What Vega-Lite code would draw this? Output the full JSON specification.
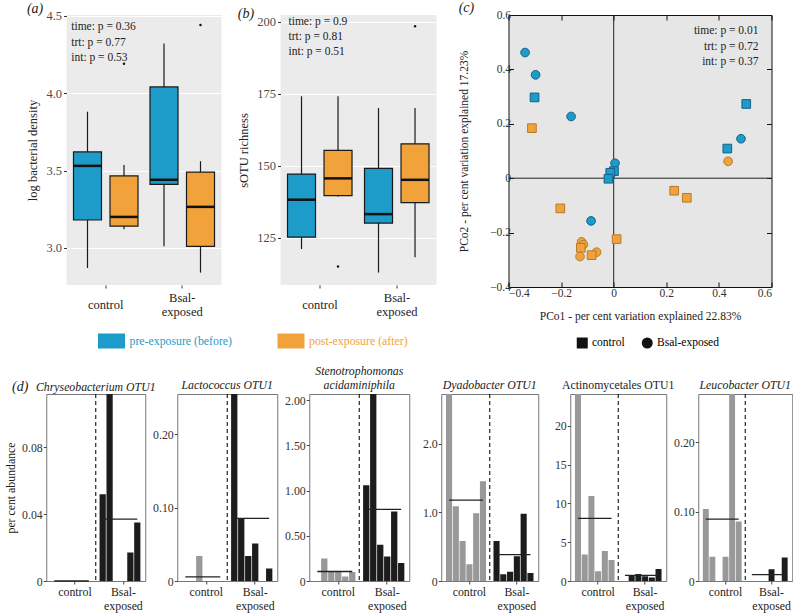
{
 "$schema": "https://vega.github.io/schema/vega-lite/v6.json",
 "background": "white",
 "padding": {"left": 5, "top": 0, "right": 0, "bottom": 0},
 "config": {
   "font": "Liberation Serif, Times New Roman, serif",
   "view": {"stroke": null},
   "axis": {"labelFont": "Liberation Serif, Times New Roman, serif", "titleFont": "Liberation Serif, Times New Roman, serif", "titleFontWeight": "normal", "labelFontSize": 12.5, "titleFontSize": 12.5, "labelColor": "#333", "titleColor": "#222"},
   "title": {"font": "Liberation Serif, Times New Roman, serif", "fontWeight": "normal", "fontSize": 12, "color": "#222"},
   "legend": {"labelFont": "Liberation Serif, Times New Roman, serif", "titleFont": "Liberation Serif, Times New Roman, serif"},
   "text": {"font": "Liberation Serif, Times New Roman, serif"}
 },
 "datasets": {
   "boxA": [
     {"group": "control", "time": "pre", "lower": 2.87, "q1": 3.18, "median": 3.53, "q3": 3.62, "upper": 3.88},
     {"group": "control", "time": "post", "lower": 3.12, "q1": 3.14, "median": 3.2, "q3": 3.465, "upper": 3.535},
     {"group": "Bsal-exposed", "time": "pre", "lower": 3.01, "q1": 3.41, "median": 3.44, "q3": 4.04, "upper": 4.32},
     {"group": "Bsal-exposed", "time": "post", "lower": 2.84, "q1": 3.01, "median": 3.265, "q3": 3.49, "upper": 3.56}
   ],
   "outA": [
     {"group": "control", "time": "post", "value": 4.19},
     {"group": "Bsal-exposed", "time": "post", "value": 4.44}
   ],
   "boxB": [
     {"group": "control", "time": "pre", "lower": 121.1, "q1": 125.2, "median": 138.2, "q3": 147.1, "upper": 174.1},
     {"group": "control", "time": "post", "lower": 139.3, "q1": 139.6, "median": 145.6, "q3": 155.3, "upper": 174.1},
     {"group": "Bsal-exposed", "time": "pre", "lower": 112.9, "q1": 130.1, "median": 133.2, "q3": 149.1, "upper": 170.0},
     {"group": "Bsal-exposed", "time": "post", "lower": 118.2, "q1": 137.2, "median": 145.1, "q3": 157.6, "upper": 170.0}
   ],
   "outB": [
     {"group": "control", "time": "post", "value": 115.0},
     {"group": "Bsal-exposed", "time": "post", "value": 198.4}
   ],
   "pco": [
     {"pco1": -0.337, "pco2": 0.462, "time": "pre", "treatment": "Bsal-exposed"},
     {"pco1": -0.297, "pco2": 0.380, "time": "pre", "treatment": "Bsal-exposed"},
     {"pco1": -0.162, "pco2": 0.227, "time": "pre", "treatment": "Bsal-exposed"},
     {"pco1": 0.005, "pco2": 0.055, "time": "pre", "treatment": "Bsal-exposed"},
     {"pco1": -0.086, "pco2": -0.157, "time": "pre", "treatment": "Bsal-exposed"},
     {"pco1": 0.484, "pco2": 0.145, "time": "pre", "treatment": "Bsal-exposed"},
     {"pco1": -0.301, "pco2": 0.297, "time": "pre", "treatment": "control"},
     {"pco1": 0.504, "pco2": 0.273, "time": "pre", "treatment": "control"},
     {"pco1": 0.432, "pco2": 0.109, "time": "pre", "treatment": "control"},
     {"pco1": 0.001, "pco2": 0.026, "time": "pre", "treatment": "control"},
     {"pco1": -0.013, "pco2": 0.020, "time": "pre", "treatment": "control"},
     {"pco1": -0.020, "pco2": -0.002, "time": "pre", "treatment": "control"},
     {"pco1": 0.435, "pco2": 0.062, "time": "post", "treatment": "Bsal-exposed"},
     {"pco1": -0.122, "pco2": -0.234, "time": "post", "treatment": "Bsal-exposed"},
     {"pco1": -0.115, "pco2": -0.244, "time": "post", "treatment": "Bsal-exposed"},
     {"pco1": -0.128, "pco2": -0.288, "time": "post", "treatment": "Bsal-exposed"},
     {"pco1": -0.065, "pco2": -0.272, "time": "post", "treatment": "Bsal-exposed"},
     {"pco1": -0.311, "pco2": 0.184, "time": "post", "treatment": "control"},
     {"pco1": -0.203, "pco2": -0.111, "time": "post", "treatment": "control"},
     {"pco1": 0.230, "pco2": -0.046, "time": "post", "treatment": "control"},
     {"pco1": 0.278, "pco2": -0.072, "time": "post", "treatment": "control"},
     {"pco1": 0.011, "pco2": -0.224, "time": "post", "treatment": "control"},
     {"pco1": -0.125, "pco2": -0.256, "time": "post", "treatment": "control"},
     {"pco1": -0.084, "pco2": -0.283, "time": "post", "treatment": "control"}
   ],
   "d1": [
     {"sample": "C1", "group": "control", "value": 0}, {"sample": "C2", "group": "control", "value": 0}, {"sample": "C3", "group": "control", "value": 0},
     {"sample": "C4", "group": "control", "value": 0}, {"sample": "C5", "group": "control", "value": 0}, {"sample": "C6", "group": "control", "value": 0},
     {"sample": "B1", "group": "Bsal-exposed", "value": 0.052}, {"sample": "B2", "group": "Bsal-exposed", "value": 0.118}, {"sample": "B3", "group": "Bsal-exposed", "value": 0},
     {"sample": "B4", "group": "Bsal-exposed", "value": 0}, {"sample": "B5", "group": "Bsal-exposed", "value": 0.017}, {"sample": "B6", "group": "Bsal-exposed", "value": 0.035}
   ],
   "d1m": [{"from": "C1", "to": "C6", "mean": 0}, {"from": "B1", "to": "B6", "mean": 0.037}],
   "d2": [
     {"sample": "C1", "group": "control", "value": 0}, {"sample": "C2", "group": "control", "value": 0}, {"sample": "C3", "group": "control", "value": 0.034},
     {"sample": "C4", "group": "control", "value": 0}, {"sample": "C5", "group": "control", "value": 0}, {"sample": "C6", "group": "control", "value": 0},
     {"sample": "B1", "group": "Bsal-exposed", "value": 0.326}, {"sample": "B2", "group": "Bsal-exposed", "value": 0.085}, {"sample": "B3", "group": "Bsal-exposed", "value": 0.034},
     {"sample": "B4", "group": "Bsal-exposed", "value": 0.051}, {"sample": "B5", "group": "Bsal-exposed", "value": 0}, {"sample": "B6", "group": "Bsal-exposed", "value": 0.017}
   ],
   "d2m": [{"from": "C1", "to": "C6", "mean": 0.0057}, {"from": "B1", "to": "B6", "mean": 0.0855}],
   "d3": [
     {"sample": "C1", "group": "control", "value": 0}, {"sample": "C2", "group": "control", "value": 0.25}, {"sample": "C3", "group": "control", "value": 0.11},
     {"sample": "C4", "group": "control", "value": 0.11}, {"sample": "C5", "group": "control", "value": 0.05}, {"sample": "C6", "group": "control", "value": 0.10},
     {"sample": "B1", "group": "Bsal-exposed", "value": 1.06}, {"sample": "B2", "group": "Bsal-exposed", "value": 2.1}, {"sample": "B3", "group": "Bsal-exposed", "value": 0.40},
     {"sample": "B4", "group": "Bsal-exposed", "value": 0.27}, {"sample": "B5", "group": "Bsal-exposed", "value": 0.77}, {"sample": "B6", "group": "Bsal-exposed", "value": 0.20}
   ],
   "d3m": [{"from": "C1", "to": "C6", "mean": 0.105}, {"from": "B1", "to": "B6", "mean": 0.793}],
   "d4": [
     {"sample": "C1", "group": "control", "value": 2.8}, {"sample": "C2", "group": "control", "value": 1.087}, {"sample": "C3", "group": "control", "value": 0.583},
     {"sample": "C4", "group": "control", "value": 0.243}, {"sample": "C5", "group": "control", "value": 0.985}, {"sample": "C6", "group": "control", "value": 1.451},
     {"sample": "B1", "group": "Bsal-exposed", "value": 0.583}, {"sample": "B2", "group": "Bsal-exposed", "value": 0.097}, {"sample": "B3", "group": "Bsal-exposed", "value": 0.136},
     {"sample": "B4", "group": "Bsal-exposed", "value": 0.359}, {"sample": "B5", "group": "Bsal-exposed", "value": 0.98}, {"sample": "B6", "group": "Bsal-exposed", "value": 0.117}
   ],
   "d4m": [{"from": "C1", "to": "C6", "mean": 1.175}, {"from": "B1", "to": "B6", "mean": 0.383}],
   "d5": [
     {"sample": "C1", "group": "control", "value": 26.2}, {"sample": "C2", "group": "control", "value": 3.4}, {"sample": "C3", "group": "control", "value": 10.95},
     {"sample": "C4", "group": "control", "value": 1.25}, {"sample": "C5", "group": "control", "value": 3.88}, {"sample": "C6", "group": "control", "value": 2.72},
     {"sample": "B1", "group": "Bsal-exposed", "value": 0}, {"sample": "B2", "group": "Bsal-exposed", "value": 0.7}, {"sample": "B3", "group": "Bsal-exposed", "value": 0.9},
     {"sample": "B4", "group": "Bsal-exposed", "value": 0.6}, {"sample": "B5", "group": "Bsal-exposed", "value": 0.45}, {"sample": "B6", "group": "Bsal-exposed", "value": 1.55}
   ],
   "d5m": [{"from": "C1", "to": "C6", "mean": 8.06}, {"from": "B1", "to": "B6", "mean": 0.73}],
   "d6": [
     {"sample": "C1", "group": "control", "value": 0.104}, {"sample": "C2", "group": "control", "value": 0.035}, {"sample": "C3", "group": "control", "value": 0},
     {"sample": "C4", "group": "control", "value": 0.035}, {"sample": "C5", "group": "control", "value": 0.28}, {"sample": "C6", "group": "control", "value": 0.086},
     {"sample": "B1", "group": "Bsal-exposed", "value": 0}, {"sample": "B2", "group": "Bsal-exposed", "value": 0}, {"sample": "B3", "group": "Bsal-exposed", "value": 0},
     {"sample": "B4", "group": "Bsal-exposed", "value": 0.017}, {"sample": "B5", "group": "Bsal-exposed", "value": 0}, {"sample": "B6", "group": "Bsal-exposed", "value": 0.034}
   ],
   "d6m": [{"from": "C1", "to": "C6", "mean": 0.0894}, {"from": "B1", "to": "B6", "mean": 0.0091}]
 },
 "spacing": 13,
 "center": true,
 "align": "each",
 "resolve": {"scale": {"shape": "independent", "fill": "independent", "stroke": "independent", "color": "independent"}},
 "vconcat": [
  {
   "align": "each",
   "hconcat": [
    {
     "align": "each",
     "vconcat": [
      {
       "align": "each",
       "hconcat": [
        {
         "width": 155, "height": 270,
         "title": {"text": "(a)", "anchor": "start", "frame": "bounds", "fontStyle": "italic", "fontSize": 14, "offset": -6},
         "view": {"fill": "#ebebeb", "stroke": null},
         "layer": [
          {"data": {"name": "boxA"}, "mark": {"type": "rule", "color": "#1a1a1a", "strokeWidth": 1.2},
           "encoding": {
             "x": {"field": "group", "type": "nominal", "title": null, "scale": {"type": "band", "domain": ["control", "Bsal-exposed"], "paddingInner": 0.05, "paddingOuter": 0.038},
                   "axis": {"title": null, "labelAngle": 0, "domain": false, "tickColor": "#333", "tickSize": 3, "labelPadding": {"condition": {"test": "datum.value == 'control'", "value": 10}, "value": 3}, "labelBaseline": "top", "labelLineHeight": 14, "labelColor": "#222", "labelFontSize": 12.5, "labelExpr": "datum.value == 'Bsal-exposed' ? ['Bsal-', 'exposed'] : datum.value"}},
             "xOffset": {"field": "time", "type": "nominal", "scale": {"domain": ["pre", "post"], "paddingInner": 0.233, "paddingOuter": 0.112}},
             "y": {"field": "lower", "type": "quantitative", "title": "log bacterial density", "scale": {"domain": [2.76, 4.505], "nice": false, "zero": false},
                   "axis": {"values": [3, 3.5, 4, 4.5], "format": ".1f", "grid": true, "gridColor": "#ffffff", "gridWidth": 1.2, "domain": false, "tickColor": "#333", "tickSize": 3, "labelPadding": 2, "labelColor": "#4d4d4d", "titlePadding": 6}},
             "y2": {"field": "upper"}
           }},
          {"data": {"name": "boxA"}, "mark": {"type": "bar", "stroke": "#1a1a1a", "strokeWidth": 1.2},
           "encoding": {
             "x": {"field": "group", "type": "nominal", "title": null},
             "xOffset": {"field": "time", "type": "nominal"},
             "y": {"field": "q1", "type": "quantitative", "title": "log bacterial density"},
             "y2": {"field": "q3"},
             "fill": {"field": "time", "type": "nominal", "scale": {"domain": ["pre", "post"], "range": ["#1d9bc9", "#f2a23b"]}, "legend": null}
           }},
          {"data": {"name": "boxA"}, "mark": {"type": "tick", "color": "#111", "thickness": 2.5, "size": 28, "opacity": 1},
           "encoding": {
             "x": {"field": "group", "type": "nominal", "title": null},
             "xOffset": {"field": "time", "type": "nominal"},
             "y": {"field": "median", "type": "quantitative", "title": "log bacterial density"}
           }},
          {"data": {"name": "outA"}, "mark": {"type": "circle", "color": "#111", "size": 6, "opacity": 1},
           "encoding": {
             "x": {"field": "group", "type": "nominal", "title": null},
             "xOffset": {"field": "time", "type": "nominal"},
             "y": {"field": "value", "type": "quantitative", "title": "log bacterial density"}
           }},
          {"data": {"values": [{}]}, "mark": {"type": "text", "align": "left", "baseline": "top", "fontSize": 11.5, "lineHeight": 15.3, "dx": -34.5, "color": "#222"},
           "encoding": {
             "x": {"datum": "control", "type": "nominal"},
             "y": {"datum": 4.463, "type": "quantitative"},
             "text": {"value": ["time:  p = 0.36", "trt: p = 0.77", "int: p = 0.53"]}
           }}
         ]
        },
        {
         "width": 156, "height": 270,
         "title": {"text": "(b)", "anchor": "start", "frame": "bounds", "fontStyle": "italic", "fontSize": 14, "offset": -6},
         "view": {"fill": "#ebebeb", "stroke": null},
         "layer": [
          {"data": {"name": "boxB"}, "mark": {"type": "rule", "color": "#1a1a1a", "strokeWidth": 1.2},
           "encoding": {
             "x": {"field": "group", "type": "nominal", "title": null, "scale": {"type": "band", "domain": ["control", "Bsal-exposed"], "paddingInner": 0.05, "paddingOuter": 0.038},
                   "axis": {"title": null, "labelAngle": 0, "domain": false, "tickColor": "#333", "tickSize": 3, "labelPadding": {"condition": {"test": "datum.value == 'control'", "value": 10}, "value": 3}, "labelBaseline": "top", "labelLineHeight": 14, "labelColor": "#222", "labelFontSize": 12.5, "labelExpr": "datum.value == 'Bsal-exposed' ? ['Bsal-', 'exposed'] : datum.value"}},
             "xOffset": {"field": "time", "type": "nominal", "scale": {"domain": ["pre", "post"], "paddingInner": 0.233, "paddingOuter": 0.112}},
             "y": {"field": "lower", "type": "quantitative", "title": "sOTU richness", "scale": {"domain": [108.6, 202.3], "nice": false, "zero": false},
                   "axis": {"values": [125, 150, 175, 200], "format": "d", "grid": true, "gridColor": "#ffffff", "gridWidth": 1.2, "domain": false, "tickColor": "#333", "tickSize": 3, "labelPadding": 2, "labelColor": "#4d4d4d", "titlePadding": 6}},
             "y2": {"field": "upper"}
           }},
          {"data": {"name": "boxB"}, "mark": {"type": "bar", "stroke": "#1a1a1a", "strokeWidth": 1.2},
           "encoding": {
             "x": {"field": "group", "type": "nominal", "title": null},
             "xOffset": {"field": "time", "type": "nominal"},
             "y": {"field": "q1", "type": "quantitative", "title": "sOTU richness"},
             "y2": {"field": "q3"},
             "fill": {"field": "time", "type": "nominal", "scale": {"domain": ["pre", "post"], "range": ["#1d9bc9", "#f2a23b"]}, "legend": null}
           }},
          {"data": {"name": "boxB"}, "mark": {"type": "tick", "color": "#111", "thickness": 2.5, "size": 28, "opacity": 1},
           "encoding": {
             "x": {"field": "group", "type": "nominal", "title": null},
             "xOffset": {"field": "time", "type": "nominal"},
             "y": {"field": "median", "type": "quantitative", "title": "sOTU richness"}
           }},
          {"data": {"name": "outB"}, "mark": {"type": "circle", "color": "#111", "size": 6, "opacity": 1},
           "encoding": {
             "x": {"field": "group", "type": "nominal", "title": null},
             "xOffset": {"field": "time", "type": "nominal"},
             "y": {"field": "value", "type": "quantitative", "title": "sOTU richness"}
           }},
          {"data": {"values": [{}]}, "mark": {"type": "text", "align": "left", "baseline": "top", "fontSize": 11.5, "lineHeight": 15.3, "dx": -31.5, "color": "#222"},
           "encoding": {
             "x": {"datum": "control", "type": "nominal"},
             "y": {"datum": 202.1, "type": "quantitative"},
             "text": {"value": ["time:  p = 0.9", "trt: p = 0.81", "int: p = 0.51"]}
           }}
         ]
        }
       ],
       "spacing": 16
      },
      {
       "width": 359, "height": 16,
       "data": {"values": [{"time": "pre", "label": "pre-exposure (before)"}, {"time": "post", "label": "post-exposure (after)"}]},
       "layer": [
        {"mark": {"type": "point", "shape": "M-1,-0.556H1V0.556H-1Z", "filled": true, "size": 729, "opacity": 1, "strokeWidth": 0, "xOffset": -44.75},
         "encoding": {
           "x": {"field": "time", "type": "nominal", "scale": {"type": "band", "domain": ["pre", "post"], "paddingInner": 0, "paddingOuter": 0}, "axis": null},
           "fill": {"field": "time", "type": "nominal", "scale": {"domain": ["pre", "post"], "range": ["#1d9bc9", "#f2a23b"]}, "legend": null}
         }},
        {"mark": {"type": "text", "align": "left", "baseline": "middle", "dx": -26.75, "fontSize": 11.8},
         "encoding": {
           "x": {"field": "time", "type": "nominal"},
           "text": {"field": "label"},
           "fill": {"field": "time", "type": "nominal", "legend": null}
         }}
       ]
      }
     ],
     "spacing": 15,
     "resolve": {"scale": {"fill": "independent"}}
    },
    {
     "width": 263, "height": 272,
     "title": {"text": "(c)", "anchor": "start", "frame": "bounds", "fontStyle": "italic", "fontSize": 14, "offset": -6},
     "view": {"fill": "#e6e6e6", "stroke": "#111", "strokeWidth": 1},
     "layer": [
      {"data": {"values": [{}]}, "mark": {"type": "rule", "color": "#222", "strokeWidth": 1},
       "encoding": {
         "x": {"datum": 0, "type": "quantitative", "scale": {"domain": [-0.4, 0.6], "nice": false, "zero": false},
               "axis": {"orient": "top", "labels": false, "title": null, "domain": false, "grid": false, "tickSize": -5, "tickColor": "#111", "values": [-0.4, -0.2, 0, 0.2, 0.4, 0.6]}}
       }},
      {"data": {"values": [{}]}, "mark": {"type": "rule", "color": "#222", "strokeWidth": 1},
       "encoding": {
         "y": {"datum": 0, "type": "quantitative", "scale": {"domain": [-0.4, 0.6], "nice": false, "zero": false},
               "axis": {"orient": "right", "labels": false, "title": null, "domain": false, "grid": false, "tickSize": -5, "tickColor": "#111", "values": [-0.4, -0.2, 0, 0.2, 0.4, 0.6]}}
       }},
      {"data": {"name": "pco"}, "mark": {"type": "point", "filled": true, "size": 75, "strokeWidth": 1, "opacity": 1},
       "encoding": {
         "x": {"field": "pco1", "type": "quantitative", "title": "PCo1 - per cent variation explained 22.83%",
               "axis": {"orient": "bottom", "values": [-0.4, -0.2, 0, 0.2, 0.4, 0.6], "format": "~g", "grid": false, "domain": false, "tickSize": -5, "tickColor": "#111", "labelPadding": 5, "titlePadding": 12, "labelFontSize": 11.5, "titleFontSize": 11.5}},
         "y": {"field": "pco2", "type": "quantitative", "title": "PCo2 - per cent variation explained 17.23%",
               "axis": {"orient": "left", "values": [-0.4, -0.2, 0, 0.2, 0.4, 0.6], "format": "~g", "grid": false, "domain": false, "tickSize": -5, "tickColor": "#111", "labelPadding": 3, "titlePadding": 20, "labelFontSize": 11.5, "titleFontSize": 11.5}},
         "fill": {"field": "time", "type": "nominal", "scale": {"domain": ["pre", "post"], "range": ["#1d9bc9", "#f2a23b"]}, "legend": null},
         "stroke": {"field": "time", "type": "nominal", "scale": {"domain": ["pre", "post"], "range": ["#14608a", "#b8792b"]}, "legend": null},
         "shape": {"field": "treatment", "type": "nominal", "scale": {"domain": ["control", "Bsal-exposed"], "range": ["square", "circle"]},
                   "legend": {"orient": "none", "legendX": 68, "legendY": 322, "direction": "horizontal", "title": null, "symbolFillColor": "#111", "symbolStrokeColor": "#111", "symbolSize": 90, "labelFontSize": 11.5, "columnPadding": 14,
                              "encode": {"symbols": {"update": {"fill": {"value": "#111"}, "stroke": {"value": "#111"}, "opacity": {"value": 1}}}}}}
       }},
      {"data": {"values": [{}]}, "mark": {"type": "text", "align": "right", "baseline": "top", "fontSize": 11.5, "lineHeight": 15.3, "dx": -13, "color": "#222"},
       "encoding": {
         "x": {"datum": 0.6, "type": "quantitative", "axis": null},
         "y": {"datum": 0.562, "type": "quantitative", "axis": null},
         "text": {"value": ["time:  p = 0.01", "trt: p = 0.72", "int: p = 0.37"]}
       }}
     ],
     "resolve": {"axis": {"x": "independent", "y": "independent"}}
    }
   ],
   "spacing": 21,
   "resolve": {"scale": {"shape": "independent", "fill": "independent", "stroke": "independent"}}
  },
  {
   "align": "each",
   "bounds": "flush",
   "hconcat": [
    {
     "width": 99, "height": 187,
     "view": {"stroke": "#777", "strokeWidth": 1},
     "layer": [
      {"data": {"name": "d1"}, "mark": {"type": "bar", "clip": true},
       "encoding": {
         "x": {"field": "sample", "type": "nominal", "title": null, "scale": {"type": "band", "domain": ["C1","C2","C3","C4","C5","C6","gap","B1","B2","B3","B4","B5","B6"], "paddingInner": 0.1, "paddingOuter": 0.7},
               "axis": {"title": null, "values": ["C4", "B4"], "labelExpr": "datum.value == 'C4' ? 'control' : ['Bsal-', 'exposed']", "labelAngle": 0, "domain": false, "tickSize": 3, "tickColor": "#444", "labelPadding": 2, "labelLineHeight": 14, "labelFontSize": 11.8, "labelColor": "#222", "labelBaseline": "top"}},
         "y": {"field": "value", "type": "quantitative", "title": "per cent abundance", "scale": {"domain": [0, 0.112], "nice": false},
               "axis": {"values": [0, 0.02, 0.04, 0.06, 0.08, 0.1], "labelExpr": "datum.value == 0 ? '0' : format(datum.value, '.2f')", "domain": false, "grid": false, "tickSize": 3, "tickColor": "#444", "labelPadding": 1, "labelFontSize": 11.8, "titleFontSize": 11.8, "titlePadding": 5}},
         "color": {"field": "group", "type": "nominal", "scale": {"domain": ["control", "Bsal-exposed"], "range": ["#999999", "#1c1c1c"]}, "legend": null}
       }},
      {"data": {"values": [{}]}, "mark": {"type": "rule", "strokeDash": [4, 3], "color": "#111", "strokeWidth": 1.1},
       "encoding": {"x": {"datum": "gap", "type": "nominal"}}},
      {"data": {"name": "d1m"}, "mark": {"type": "rule", "color": "#222", "strokeWidth": 1.3},
       "encoding": {"x": {"field": "from", "type": "nominal", "title": null}, "x2": {"field": "to"}, "y": {"field": "mean", "type": "quantitative", "title": "per cent abundance"}}},
      {"data": {"values": [{}]}, "mark": {"type": "text", "fontSize": 14, "fontStyle": "italic", "dx": -34, "dy": -7, "color": "#222"},
       "encoding": {"x": {"datum": "C1", "type": "nominal"}, "y": {"datum": 0.112, "type": "quantitative"}, "text": {"value": "(d)"}}},
      {"data": {"values": [{}]}, "mark": {"type": "text", "fontSize": 11.8, "fontStyle": "italic", "dy": -7, "color": "#222"},
       "encoding": {"x": {"datum": "gap", "type": "nominal"}, "y": {"datum": 0.112, "type": "quantitative"}, "text": {"value": "Chryseobacterium OTU1"}}}
     ]
    },
    {
     "width": 100, "height": 187,
     "title": {"text": ["", "Lactococcus OTU1"], "fontStyle": "italic", "fontSize": 11.8, "lineHeight": 14, "offset": 2, "frame": "group"},
     "view": {"stroke": "#777", "strokeWidth": 1},
     "layer": [
      {"data": {"name": "d2"}, "mark": {"type": "bar", "clip": true},
       "encoding": {
         "x": {"field": "sample", "type": "nominal", "title": null, "scale": {"type": "band", "domain": ["C1","C2","C3","C4","C5","C6","gap","B1","B2","B3","B4","B5","B6"], "paddingInner": 0.1, "paddingOuter": 0.7},
               "axis": {"title": null, "values": ["C4", "B4"], "labelExpr": "datum.value == 'C4' ? 'control' : ['Bsal-', 'exposed']", "labelAngle": 0, "domain": false, "tickSize": 3, "tickColor": "#444", "labelPadding": 2, "labelLineHeight": 14, "labelFontSize": 11.8, "labelColor": "#222", "labelBaseline": "top"}},
         "y": {"field": "value", "type": "quantitative", "title": null, "scale": {"domain": [0, 0.255], "nice": false},
               "axis": {"values": [0, 0.05, 0.1, 0.15, 0.2, 0.25], "labelExpr": "datum.value == 0 ? '0' : format(datum.value, '.2f')", "domain": false, "grid": false, "tickSize": 3, "tickColor": "#444", "labelPadding": 1, "labelFontSize": 11.8}},
         "color": {"field": "group", "type": "nominal", "scale": {"domain": ["control", "Bsal-exposed"], "range": ["#999999", "#1c1c1c"]}, "legend": null}
       }},
      {"data": {"values": [{}]}, "mark": {"type": "rule", "strokeDash": [4, 3], "color": "#111", "strokeWidth": 1.1},
       "encoding": {"x": {"datum": "gap", "type": "nominal"}}},
      {"data": {"name": "d2m"}, "mark": {"type": "rule", "color": "#222", "strokeWidth": 1.3},
       "encoding": {"x": {"field": "from", "type": "nominal", "title": null}, "x2": {"field": "to"}, "y": {"field": "mean", "type": "quantitative", "title": null}}}
     ]
    },
    {
     "width": 100, "height": 187,
     "title": {"text": ["Stenotrophomonas", "acidaminiphila"], "fontStyle": "italic", "fontSize": 11.8, "lineHeight": 14, "offset": 2, "frame": "group"},
     "view": {"stroke": "#777", "strokeWidth": 1},
     "layer": [
      {"data": {"name": "d3"}, "mark": {"type": "bar", "clip": true},
       "encoding": {
         "x": {"field": "sample", "type": "nominal", "title": null, "scale": {"type": "band", "domain": ["C1","C2","C3","C4","C5","C6","gap","B1","B2","B3","B4","B5","B6"], "paddingInner": 0.1, "paddingOuter": 0.7},
               "axis": {"title": null, "values": ["C4", "B4"], "labelExpr": "datum.value == 'C4' ? 'control' : ['Bsal-', 'exposed']", "labelAngle": 0, "domain": false, "tickSize": 3, "tickColor": "#444", "labelPadding": 2, "labelLineHeight": 14, "labelFontSize": 11.8, "labelColor": "#222", "labelBaseline": "top"}},
         "y": {"field": "value", "type": "quantitative", "title": null, "scale": {"domain": [0, 2.07], "nice": false},
               "axis": {"values": [0, 0.25, 0.5, 0.75, 1, 1.25, 1.5, 1.75, 2], "labelExpr": "datum.value == 0 ? '0' : format(datum.value, '.2f')", "domain": false, "grid": false, "tickSize": 3, "tickColor": "#444", "labelPadding": 1, "labelFontSize": 11.8}},
         "color": {"field": "group", "type": "nominal", "scale": {"domain": ["control", "Bsal-exposed"], "range": ["#999999", "#1c1c1c"]}, "legend": null}
       }},
      {"data": {"values": [{}]}, "mark": {"type": "rule", "strokeDash": [4, 3], "color": "#111", "strokeWidth": 1.1},
       "encoding": {"x": {"datum": "gap", "type": "nominal"}}},
      {"data": {"name": "d3m"}, "mark": {"type": "rule", "color": "#222", "strokeWidth": 1.3},
       "encoding": {"x": {"field": "from", "type": "nominal", "title": null}, "x2": {"field": "to"}, "y": {"field": "mean", "type": "quantitative", "title": null}}}
     ]
    },
    {
     "width": 97, "height": 187,
     "title": {"text": ["", "Dyadobacter OTU1"], "fontStyle": "italic", "fontSize": 11.8, "lineHeight": 14, "offset": 2, "frame": "group"},
     "view": {"stroke": "#777", "strokeWidth": 1},
     "layer": [
      {"data": {"name": "d4"}, "mark": {"type": "bar", "clip": true},
       "encoding": {
         "x": {"field": "sample", "type": "nominal", "title": null, "scale": {"type": "band", "domain": ["C1","C2","C3","C4","C5","C6","gap","B1","B2","B3","B4","B5","B6"], "paddingInner": 0.1, "paddingOuter": 0.7},
               "axis": {"title": null, "values": ["C4", "B4"], "labelExpr": "datum.value == 'C4' ? 'control' : ['Bsal-', 'exposed']", "labelAngle": 0, "domain": false, "tickSize": 3, "tickColor": "#444", "labelPadding": 2, "labelLineHeight": 14, "labelFontSize": 11.8, "labelColor": "#222", "labelBaseline": "top"}},
         "y": {"field": "value", "type": "quantitative", "title": null, "scale": {"domain": [0, 2.72], "nice": false},
               "axis": {"values": [0, 0.5, 1, 1.5, 2, 2.5], "labelExpr": "datum.value == 0 ? '0' : format(datum.value, '.1f')", "domain": false, "grid": false, "tickSize": 3, "tickColor": "#444", "labelPadding": 1, "labelFontSize": 11.8}},
         "color": {"field": "group", "type": "nominal", "scale": {"domain": ["control", "Bsal-exposed"], "range": ["#999999", "#1c1c1c"]}, "legend": null}
       }},
      {"data": {"values": [{}]}, "mark": {"type": "rule", "strokeDash": [4, 3], "color": "#111", "strokeWidth": 1.1},
       "encoding": {"x": {"datum": "gap", "type": "nominal"}}},
      {"data": {"name": "d4m"}, "mark": {"type": "rule", "color": "#222", "strokeWidth": 1.3},
       "encoding": {"x": {"field": "from", "type": "nominal", "title": null}, "x2": {"field": "to"}, "y": {"field": "mean", "type": "quantitative", "title": null}}}
     ]
    },
    {
     "width": 96, "height": 187,
     "title": {"text": ["", "Actinomycetales OTU1"], "fontSize": 11.8, "lineHeight": 14, "offset": 2, "frame": "group"},
     "view": {"stroke": "#777", "strokeWidth": 1},
     "layer": [
      {"data": {"name": "d5"}, "mark": {"type": "bar", "clip": true},
       "encoding": {
         "x": {"field": "sample", "type": "nominal", "title": null, "scale": {"type": "band", "domain": ["C1","C2","C3","C4","C5","C6","gap","B1","B2","B3","B4","B5","B6"], "paddingInner": 0.1, "paddingOuter": 0.7},
               "axis": {"title": null, "values": ["C4", "B4"], "labelExpr": "datum.value == 'C4' ? 'control' : ['Bsal-', 'exposed']", "labelAngle": 0, "domain": false, "tickSize": 3, "tickColor": "#444", "labelPadding": 2, "labelLineHeight": 14, "labelFontSize": 11.8, "labelColor": "#222", "labelBaseline": "top"}},
         "y": {"field": "value", "type": "quantitative", "title": null, "scale": {"domain": [0, 24.1], "nice": false},
               "axis": {"values": [0, 5, 10, 15, 20], "format": "d", "domain": false, "grid": false, "tickSize": 3, "tickColor": "#444", "labelPadding": 1, "labelFontSize": 11.8}},
         "color": {"field": "group", "type": "nominal", "scale": {"domain": ["control", "Bsal-exposed"], "range": ["#999999", "#1c1c1c"]}, "legend": null}
       }},
      {"data": {"values": [{}]}, "mark": {"type": "rule", "strokeDash": [4, 3], "color": "#111", "strokeWidth": 1.1},
       "encoding": {"x": {"datum": "gap", "type": "nominal"}}},
      {"data": {"name": "d5m"}, "mark": {"type": "rule", "color": "#222", "strokeWidth": 1.3},
       "encoding": {"x": {"field": "from", "type": "nominal", "title": null}, "x2": {"field": "to"}, "y": {"field": "mean", "type": "quantitative", "title": null}}}
     ]
    },
    {
     "width": 94, "height": 187,
     "title": {"text": ["", "Leucobacter OTU1"], "fontStyle": "italic", "fontSize": 11.8, "lineHeight": 14, "offset": 2, "frame": "group"},
     "view": {"stroke": "#777", "strokeWidth": 1},
     "layer": [
      {"data": {"name": "d6"}, "mark": {"type": "bar", "clip": true},
       "encoding": {
         "x": {"field": "sample", "type": "nominal", "title": null, "scale": {"type": "band", "domain": ["C1","C2","C3","C4","C5","C6","gap","B1","B2","B3","B4","B5","B6"], "paddingInner": 0.1, "paddingOuter": 0.7},
               "axis": {"title": null, "values": ["C4", "B4"], "labelExpr": "datum.value == 'C4' ? 'control' : ['Bsal-', 'exposed']", "labelAngle": 0, "domain": false, "tickSize": 3, "tickColor": "#444", "labelPadding": 2, "labelLineHeight": 14, "labelFontSize": 11.8, "labelColor": "#222", "labelBaseline": "top"}},
         "y": {"field": "value", "type": "quantitative", "title": null, "scale": {"domain": [0, 0.27], "nice": false},
               "axis": {"values": [0, 0.05, 0.1, 0.15, 0.2, 0.25], "labelExpr": "datum.value == 0 ? '0' : format(datum.value, '.2f')", "domain": false, "grid": false, "tickSize": 3, "tickColor": "#444", "labelPadding": 1, "labelFontSize": 11.8}},
         "color": {"field": "group", "type": "nominal", "scale": {"domain": ["control", "Bsal-exposed"], "range": ["#999999", "#1c1c1c"]}, "legend": null}
       }},
      {"data": {"values": [{}]}, "mark": {"type": "rule", "strokeDash": [4, 3], "color": "#111", "strokeWidth": 1.1},
       "encoding": {"x": {"datum": "gap", "type": "nominal"}}},
      {"data": {"name": "d6m"}, "mark": {"type": "rule", "color": "#222", "strokeWidth": 1.3},
       "encoding": {"x": {"field": "from", "type": "nominal", "title": null}, "x2": {"field": "to"}, "y": {"field": "mean", "type": "quantitative", "title": null}}}
     ]
    }
   ],
   "spacing": 32,
   "resolve": {"scale": {"color": "independent"}}
  }
 ]
}
